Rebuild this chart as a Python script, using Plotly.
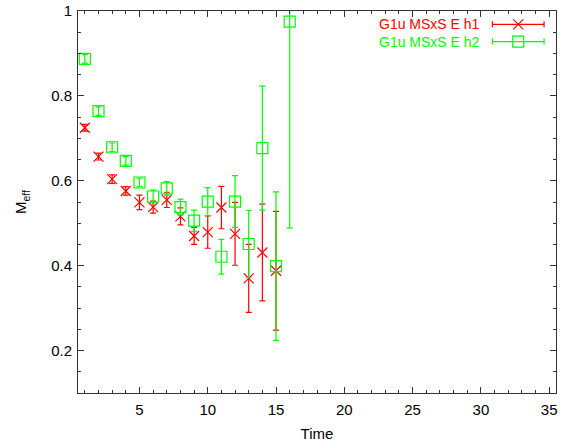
import plotly.graph_objects as go

# Effective mass vs. time slice for two smearing choices
time_h1 = [1, 2, 3, 4, 5, 6, 7, 8, 9, 10, 11, 12, 13, 14, 15]
meff_h1 = [0.725, 0.657, 0.604, 0.576, 0.549, 0.538, 0.555, 0.516, 0.470,
           0.479, 0.537, 0.475, 0.370, 0.431, 0.388]
err_h1 = [0.008, 0.008, 0.010, 0.010, 0.017, 0.014, 0.018, 0.020, 0.020,
          0.038, 0.050, 0.074, 0.080, 0.114, 0.140]

time_h2 = [1, 2, 3, 4, 5, 6, 7, 8, 9, 10, 11, 12, 13, 14, 15, 16]
meff_h2 = [0.887, 0.764, 0.679, 0.647, 0.596, 0.563, 0.582, 0.538, 0.506,
           0.551, 0.421, 0.551, 0.451, 0.677, 0.399, 0.975]
err_h2 = [0.010, 0.010, 0.010, 0.010, 0.010, 0.015, 0.016, 0.019, 0.025,
          0.033, 0.041, 0.061, 0.079, 0.146, 0.175, 0.486]

series_names = ["G1u MSxS E h1", "G1u MSxS E h2"]
RED = "#ff0000"
GREEN = "#00ff00"
FONT = "Liberation Sans, Arial, sans-serif"

fig = go.Figure()

fig.add_trace(go.Scatter(
    x=time_h1, y=meff_h1, mode="markers", name=series_names[0],
    marker=dict(symbol="x-thin-open", size=10, color=RED,
                line=dict(color=RED, width=1.2)),
    error_y=dict(type="data", array=err_h1, visible=True,
                 color=RED, thickness=1.2, width=3),
    showlegend=False,
))
fig.add_trace(go.Scatter(
    x=time_h2, y=meff_h2, mode="markers", name=series_names[1],
    marker=dict(symbol="square-open", size=11, color=GREEN,
                line=dict(color=GREEN, width=1.2)),
    error_y=dict(type="data", array=err_h2, visible=True,
                 color=GREEN, thickness=1.2, width=3),
    showlegend=False,
))

# Key in the top-right corner: label text followed by a sample errorbar
key_rows = [(0.965, RED, "x-thin-open", 10), (0.920, GREEN, "square-open", 11)]
for (ky, col, sym, sz), label in zip(key_rows, series_names):
    fig.add_trace(go.Scatter(
        x=[0.921], y=[ky], xaxis="x2", yaxis="y2", mode="markers",
        marker=dict(symbol=sym, size=sz, color=col, line=dict(color=col, width=1.2)),
        error_x=dict(type="constant", value=0.054, visible=True,
                     color=col, thickness=1.2, width=3),
        showlegend=False, hoverinfo="skip",
    ))
    fig.add_annotation(
        x=0.846, y=ky, xref="paper", yref="paper", text=label,
        showarrow=False, xanchor="right", yanchor="middle",
        font=dict(family=FONT, size=14, color=col),
    )

axis_common = dict(
    showgrid=False, zeroline=False, showline=True, linecolor="#333333",
    linewidth=1, mirror="allticks", ticks="inside", ticklen=6,
    tickcolor="#333333", tickwidth=1, automargin=False,
    tickfont=dict(family=FONT, size=15, color="black"),
)

fig.update_layout(
    width=570, height=445,
    margin=dict(l=78, r=14, t=11, b=52),
    paper_bgcolor="white", plot_bgcolor="white",
    xaxis=dict(
        range=[0.5, 35.5], tickmode="array", tickvals=[5, 10, 15, 20, 25, 30, 35],
        minor=dict(dtick=1, tick0=0, ticks="inside", ticklen=3, tickcolor="#333333"),
        ticklabelstandoff=3,
        title=dict(text="Time", font=dict(family=FONT, size=15, color="black"), standoff=11),
        **axis_common,
    ),
    yaxis=dict(
        range=[0.1, 1.0], tickmode="array", tickvals=[0.2, 0.4, 0.6, 0.8, 1.0],
        ticktext=["0.2", "0.4", "0.6", "0.8", "1"],
        minor=dict(dtick=0.05, tick0=0, ticks="inside", ticklen=3, tickcolor="#333333"),
        ticklabelstandoff=2,
        title=dict(text="M<sub>eff</sub>", font=dict(family=FONT, size=15, color="black"), standoff=20),
        **axis_common,
    ),
    xaxis2=dict(range=[0, 1], overlaying="x", visible=False, fixedrange=True),
    yaxis2=dict(range=[0, 1], overlaying="y", visible=False, fixedrange=True),
)

fig.write_html("out.html")
